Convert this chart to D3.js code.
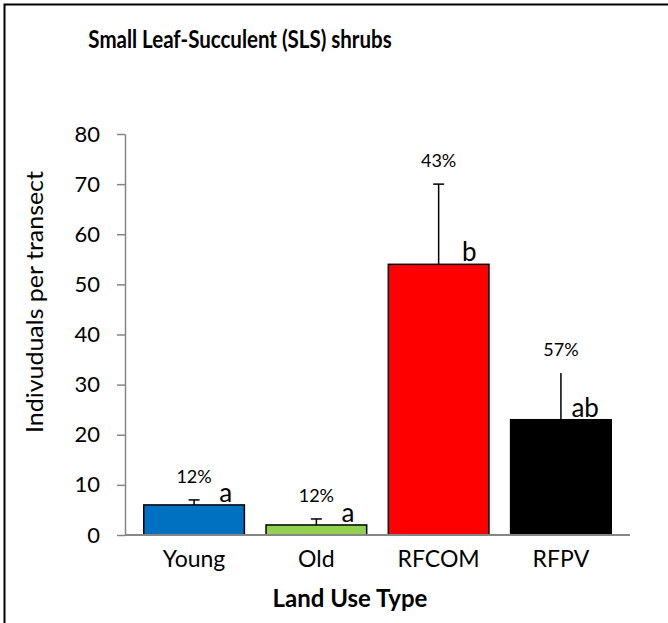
<!DOCTYPE html>
<html>
<head>
<meta charset="utf-8">
<script src="https://cdn.jsdelivr.net/npm/d3@7"></script>
<style>
  html, body { margin: 0; padding: 0; background: #fff; }
  svg { display: block; font-family: Lato, "Open Sans", sans-serif; }
</style>
</head>
<body>
<svg id="chart" width="668" height="623"></svg>
<script>
// Land use categories and shrub density (mean, standard error)
const categories = ["Young", "Old", "RFCOM", "RFPV"];
const means = [6, 2, 54, 23];
const errors = [1.0, 1.2, 16.0, 9.3];
const percents = ["12%", "12%", "43%", "57%"];
const groups = ["a", "a", "b", "ab"];
const colors = ["#0070C0", "#92D050", "#FF0000", "#000000"];
const hasCap = [true, true, true, false];
const yTicks = [0, 10, 20, 30, 40, 50, 60, 70, 80];

const svg = d3.select("#chart");

// outer frame (right and bottom edges run past the page)
svg.append("rect")
  .attr("x", 4.5).attr("y", 4.5)
  .attr("width", 700).attr("height", 700)
  .attr("fill", "none").attr("stroke", "#000").attr("stroke-width", 2);

const plot = { left: 125, right: 630, top: 134, bottom: 535 };

const x = d3.scaleBand()
  .domain(categories)
  .range([133, 622])
  .paddingInner(0.177)
  .paddingOuter(0.088);

const y = d3.scaleLinear().domain([0, 80]).range([plot.bottom, plot.top]);

const axisColor = "#868686";

// y axis
const yAxis = svg.append("g")
  .attr("transform", `translate(${plot.left},0)`)
  .call(d3.axisLeft(y).tickValues(yTicks).tickSize(8).tickPadding(17).tickSizeOuter(0));
yAxis.select(".domain").attr("stroke", axisColor).attr("stroke-width", 1.5);
yAxis.selectAll(".tick line").attr("stroke", axisColor).attr("stroke-width", 1.5);
yAxis.selectAll(".tick text")
  .attr("fill", "#000")
  .style("font-size", "22px")
  .style("font-family", "Lato, sans-serif");

// bars
svg.append("g").selectAll("rect")
  .data(categories)
  .join("rect")
  .attr("x", d => x(d))
  .attr("y", (d, i) => y(means[i]))
  .attr("width", x.bandwidth())
  .attr("height", (d, i) => y(0) - y(means[i]))
  .attr("fill", (d, i) => colors[i])
  .attr("stroke", "#000")
  .attr("stroke-width", 1.5);

// x axis baseline
svg.append("line")
  .attr("x1", plot.left).attr("x2", plot.right)
  .attr("y1", y(0)).attr("y2", y(0))
  .attr("stroke", axisColor).attr("stroke-width", 2);

// error bars (upper only)
const err = svg.append("g").attr("stroke", "#000").attr("stroke-width", 1.5);
categories.forEach((c, i) => {
  const cx = x(c) + x.bandwidth() / 2;
  err.append("line")
    .attr("x1", cx).attr("x2", cx)
    .attr("y1", y(means[i])).attr("y2", y(means[i] + errors[i]));
  if (hasCap[i]) {
    err.append("line")
      .attr("x1", cx - 5.5).attr("x2", cx + 5.5)
      .attr("y1", y(means[i] + errors[i])).attr("y2", y(means[i] + errors[i]));
  }
});

// percentage labels above the error bars
svg.append("g").selectAll("text")
  .data(categories)
  .join("text")
  .attr("x", d => x(d) + x.bandwidth() / 2)
  .attr("y", (d, i) => y(means[i] + errors[i]) - 17)
  .attr("text-anchor", "middle")
  .style("font-size", "18px")
  .text((d, i) => percents[i]);

// significance letters
svg.append("g").selectAll("text")
  .data(categories)
  .join("text")
  .attr("x", d => x(d) + x.bandwidth() / 2 + 38)
  .attr("y", (d, i) => y(means[i]) - 3)
  .attr("text-anchor", "end")
  .style("font-size", "26px")
  .text((d, i) => groups[i]);

// category labels
svg.append("g").selectAll("text")
  .data(categories)
  .join("text")
  .attr("x", d => x(d) + x.bandwidth() / 2)
  .attr("y", 567)
  .attr("text-anchor", "middle")
  .style("font-size", "23px")
  .text(d => d);

// chart title
svg.append("text")
  .attr("transform", "translate(240,48) scale(1,1.25)")
  .attr("text-anchor", "middle")
  .style("font-size", "20.5px").style("font-weight", "bold")
  .text("Small Leaf-Succulent (SLS) shrubs");

// axis titles
svg.append("text")
  .attr("x", 350).attr("y", 607)
  .attr("text-anchor", "middle")
  .style("font-size", "24px").style("font-weight", "bold")
  .text("Land Use Type");

svg.append("text")
  .attr("transform", "translate(43,302) rotate(-90)")
  .attr("text-anchor", "middle")
  .attr("textLength", 262)
  .attr("lengthAdjust", "spacingAndGlyphs")
  .style("font-size", "24px")
  .text("Indivuduals per transect");
</script>
</body>
</html>
